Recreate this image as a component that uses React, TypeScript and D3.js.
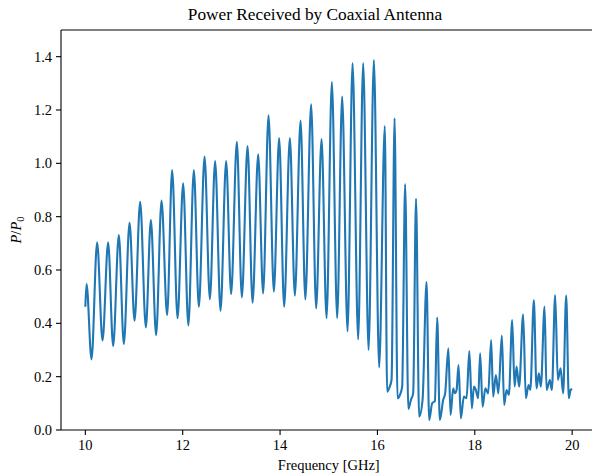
import React from "react";
import * as d3 from "d3";

// Frequency samples (GHz) and received power ratio P/P0, traced at peaks, troughs and shoulders
const freqGHz: number[] = [
  10.0, 10.025, 10.127, 10.242, 10.353, 10.468, 10.571, 10.688, 10.791, 10.908,
  11.011, 11.126, 11.243, 11.346, 11.454, 11.565, 11.68, 11.783, 11.894, 12.009,
  12.116, 12.229, 12.332, 12.449, 12.558, 12.666, 12.777, 12.892, 12.995, 13.112,
  13.215, 13.332, 13.435, 13.55, 13.652, 13.763, 13.872, 13.981, 14.084, 14.201,
  14.304, 14.421, 14.519, 14.638, 14.741, 14.852, 14.955, 15.064, 15.173, 15.275,
  15.386, 15.489, 15.604, 15.707, 15.818, 15.927, 16.035, 16.152, 16.199, 16.241,
  16.29, 16.352, 16.413, 16.461, 16.508, 16.569, 16.635, 16.687, 16.734, 16.793,
  16.857, 16.927, 17.009, 17.063, 17.124, 17.18, 17.227, 17.282, 17.35, 17.391,
  17.457, 17.502, 17.556, 17.591, 17.626, 17.666, 17.714, 17.775, 17.831, 17.888,
  17.94, 17.981, 18.022, 18.069, 18.11, 18.16, 18.217, 18.275, 18.336, 18.377,
  18.433, 18.484, 18.556, 18.603, 18.652, 18.7, 18.768, 18.817, 18.858, 18.911,
  18.993, 19.049, 19.104, 19.141, 19.213, 19.269, 19.316, 19.357, 19.433, 19.474,
  19.542, 19.583, 19.651, 19.706, 19.762, 19.815, 19.877, 19.932, 19.967, 20.0,
];

const powerRatio: number[] = [
  0.462, 0.547, 0.265, 0.704, 0.335, 0.704, 0.315, 0.731, 0.3225, 0.777,
  0.41, 0.856, 0.385, 0.787, 0.356, 0.86, 0.431, 0.975, 0.419, 0.925,
  0.392, 0.975, 0.462, 1.025, 0.49, 1.009, 0.447, 1.009, 0.51, 1.081,
  0.4975, 1.065, 0.477, 1.034, 0.5125, 1.18, 0.519, 1.095, 0.462, 1.095,
  0.504, 1.16, 0.49, 1.221, 0.456, 1.091, 0.419, 1.305, 0.42, 1.25,
  0.37, 1.376, 0.34, 1.376, 0.3, 1.387, 0.235, 1.14, 0.144, 0.157,
  0.1875, 1.169, 0.119, 0.131, 0.1625, 0.922, 0.079, 0.1125, 0.1375, 0.867,
  0.05, 0.1125, 0.555, 0.0375, 0.1, 0.109, 0.422, 0.0375, 0.1125, 0.1375,
  0.306, 0.056, 0.156, 0.1375, 0.15, 0.244, 0.044, 0.125, 0.119, 0.296,
  0.081, 0.1625, 0.15, 0.119, 0.2875, 0.0875, 0.156, 0.1375, 0.3375, 0.125,
  0.206, 0.1375, 0.354, 0.094, 0.15, 0.131, 0.4125, 0.1625, 0.2375, 0.1625,
  0.434, 0.119, 0.169, 0.15, 0.4875, 0.156, 0.2125, 0.1625, 0.4625, 0.15,
  0.1875, 0.15, 0.506, 0.1875, 0.231, 0.1375, 0.504, 0.119, 0.15, 0.154,
];

const xTicks: number[] = [10, 12, 14, 16, 18, 20];
const yTicks: number[] = [0, 0.2, 0.4, 0.6, 0.8, 1.0, 1.2, 1.4];

const titleText = "Power Received by Coaxial Antenna";
const xLabelText = "Frequency [GHz]";

const W = 592;
const H = 475;
const FONT = "'Liberation Serif', 'DejaVu Serif', serif";

export default function App() {
  const x = d3.scaleLinear().domain([9.5, 20.5]).range([61, 596.5]);
  const y = d3.scaleLinear().domain([0, 1.5]).range([430, 30]);

  const pts: [number, number][] = freqGHz.map((f, i) => [f, powerRatio[i]]);
  const line = d3
    .line<[number, number]>()
    .x((d) => x(d[0]))
    .y((d) => y(d[1]))
    .curve(d3.curveMonotoneX);

  const [x0, x1] = x.range();
  const [yb, yt] = y.range();

  return (
    <div style={{ position: "absolute", left: 0, top: 0 }}>
      <svg width={W} height={H} style={{ display: "block", background: "#fff" }}>
        <defs>
          <clipPath id="plotArea">
            <rect x={x0} y={yt} width={x1 - x0} height={yb - yt} />
          </clipPath>
        </defs>

        <path
          d={line(pts) ?? ""}
          fill="none"
          stroke="#1f77b4"
          strokeWidth={2.1}
          strokeLinejoin="round"
          strokeLinecap="butt"
          clipPath="url(#plotArea)"
        />

        {/* spines */}
        <g stroke="#000" strokeWidth={1.1} fill="none">
          <line x1={x0} y1={yb} x2={x1} y2={yb} />
          <line x1={x0} y1={yt} x2={x1} y2={yt} />
          <line x1={x0} y1={yt} x2={x0} y2={yb} />
          <line x1={x1} y1={yt} x2={x1} y2={yb} />
        </g>

        {/* x axis ticks */}
        <g fontFamily={FONT} fontSize={14.5} fill="#000">
          {xTicks.map((t) => (
            <g key={t} transform={`translate(${x(t)},${yb})`}>
              <line y1={0} y2={5} stroke="#000" strokeWidth={1.1} />
              <text y={20} textAnchor="middle">
                {String(t)}
              </text>
            </g>
          ))}
        </g>

        {/* y axis ticks */}
        <g fontFamily={FONT} fontSize={14.5} fill="#000">
          {yTicks.map((t) => (
            <g key={t} transform={`translate(${x0},${y(t)})`}>
              <line x1={0} x2={-5} stroke="#000" strokeWidth={1.1} />
              <text x={-9} dy="0.35em" textAnchor="end">
                {t.toFixed(1)}
              </text>
            </g>
          ))}
        </g>

        {/* axis labels */}
        <text
          x={(x0 + x1) / 2}
          y={470}
          textAnchor="middle"
          fontFamily={FONT}
          fontSize={14.5}
        >
          {xLabelText}
        </text>
        <text
          transform={`translate(21,${(yt + yb) / 2}) rotate(-90)`}
          textAnchor="middle"
          fontFamily={FONT}
          fontSize={14.5}
        >
          <tspan fontStyle="italic">P</tspan>
          <tspan>/</tspan>
          <tspan fontStyle="italic">P</tspan>
          <tspan fontSize={10.5} dy={3}>0</tspan>
        </text>

        {/* title */}
        <text
          x={315}
          y={20}
          textAnchor="middle"
          fontFamily={FONT}
          fontSize={17.3}
        >
          {titleText}
        </text>
      </svg>
    </div>
  );
}
